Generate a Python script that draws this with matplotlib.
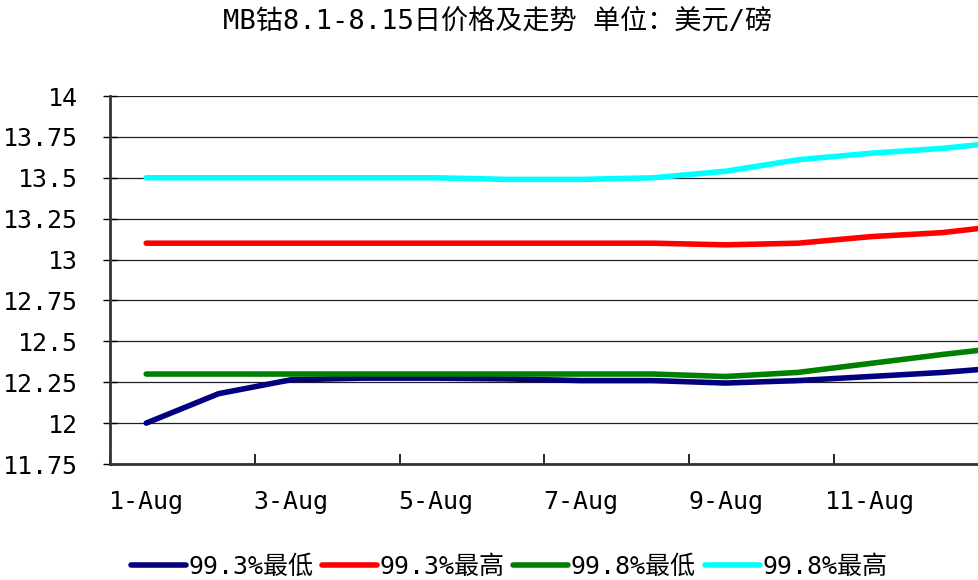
import matplotlib
matplotlib.use("Agg")
import matplotlib.pyplot as plt
import numpy as np

plt.rcParams['font.family'] = ['DejaVu Sans Mono', 'Noto Sans CJK SC']

# Data (days of August; 13-Aug lies beyond the cropped right edge)
days = [1, 2, 3, 4, 5, 6, 7, 8, 9, 10, 11, 12, 13]
date_labels = ["1-Aug", "3-Aug", "5-Aug", "7-Aug", "9-Aug", "11-Aug"]
label_days = [1, 3, 5, 7, 9, 11]

low_993 = [12.00, 12.18, 12.265, 12.275, 12.275, 12.27, 12.26, 12.26, 12.245, 12.26, 12.285, 12.31, 12.345]
high_993 = [13.10, 13.10, 13.10, 13.10, 13.10, 13.10, 13.10, 13.10, 13.09, 13.10, 13.14, 13.165, 13.215]
low_998 = [12.30, 12.30, 12.30, 12.30, 12.30, 12.30, 12.30, 12.30, 12.285, 12.31, 12.365, 12.42, 12.47]
high_998 = [13.50, 13.50, 13.50, 13.50, 13.50, 13.49, 13.49, 13.50, 13.54, 13.61, 13.65, 13.68, 13.725]

series_names = ["99.3%最低", "99.3%最高", "99.8%最低", "99.8%最高"]
colors = ["#000080", "#FF0000", "#008000", "#00FFFF"]

yticks = [11.75, 12, 12.25, 12.5, 12.75, 13, 13.25, 13.5, 13.75, 14]
ytick_labels = ["11.75", "12", "12.25", "12.5", "12.75", "13", "13.25", "13.5", "13.75", "14"]

fig = plt.figure(figsize=(9.79, 5.80), dpi=100)
ax = fig.add_axes([110/979, 1-464/580, 869/979, 368/580])

for vals, name, c in zip([low_993, high_993, low_998, high_998], series_names, colors):
    ax.plot(days, vals, color=c, lw=4.0, label=name, solid_capstyle='round',
            solid_joinstyle='round', zorder=3)

ax.set_xlim(0.5, 12.49)
ax.set_ylim(11.75, 14)

ax.set_yticks(yticks)
ax.set_yticklabels(ytick_labels, fontsize=18)
ax.yaxis.grid(True, color='#202020', lw=0.9)
ax.set_axisbelow(True)

# tick marks between categories, labels at category centres
ax.set_xticks(np.arange(0.5, 13, 2))
ax.set_xticklabels([])
ax.set_xticks(label_days, minor=True)
ax.set_xticklabels(date_labels, minor=True, fontsize=18)
ax.tick_params(axis='x', which='major', direction='in', length=7, width=1.2, color='black')
ax.tick_params(axis='x', which='minor', length=0, pad=19)
ax.tick_params(axis='y', which='major', direction='inout', length=10, width=1.0, pad=18)

ax.spines['top'].set_visible(False)
ax.spines['right'].set_color('#999999')
ax.spines['right'].set_linewidth(1.5)
for s in ['left', 'bottom']:
    ax.spines[s].set_color('#333333')
    ax.spines[s].set_linewidth(2.0)

fig.text(498/979, 1-22/580, "MB钴8.1-8.15日价格及走势 单位：美元/磅",
         ha='center', va='center', fontsize=19.5)

leg = fig.legend(loc='center', bbox_to_anchor=(509/979, 1-567/580), ncol=4,
                 frameon=False, fontsize=18, handlelength=2.2, handletextpad=0.1,
                 columnspacing=0.35, borderaxespad=0)

fig.savefig("out.png", dpi=100)
